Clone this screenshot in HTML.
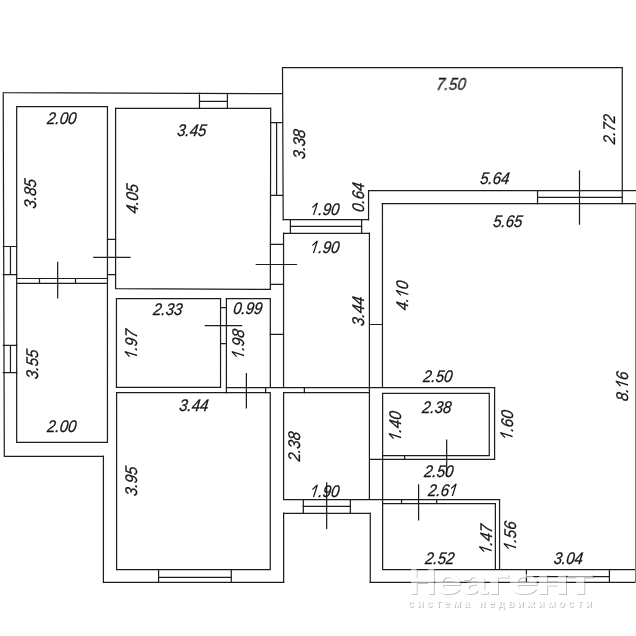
<!DOCTYPE html>
<html><head><meta charset="utf-8"><title>plan</title>
<style>html,body{margin:0;padding:0;background:#fff}svg{display:block}text{font-family:"Liberation Sans",sans-serif;font-style:italic;font-size:16.9px;fill:#161616;stroke:#161616;stroke-width:0.28px;text-anchor:middle}tspan.h{fill:none;stroke:none}path.one{fill:none;stroke:#161616;stroke-width:1.45px;stroke-linejoin:bevel;stroke-linecap:butt}text.w1{font-style:normal;font-weight:bold;font-size:37.5px;stroke:none;text-anchor:start}text.w2{font-style:normal;font-weight:bold;font-size:10.5px;stroke:none}</style></head><body>
<svg width="636" height="636" viewBox="0 0 636 636">
<rect width="636" height="636" fill="#fff"/>
<g stroke="#1c1c1c" stroke-width="1.22" stroke-linecap="square" fill="none">
<path d="M3.20 92.70L282.50 93.70M3.20 92.70L4.30 456.10M4.30 456.32L103.30 456.32M103.41 456.10L103.41 582.40M103.30 582.46L283.80 582.46M283.63 513.00L283.63 582.40M283.80 513.27L370.00 513.27M370.27 513.00L370.27 582.40M370.00 582.46L636.00 582.46M282.50 67.60L283.20 219.80M282.50 67.55L622.00 67.55M622.27 67.60L622.27 203.90M283.20 219.63L368.60 219.63M368.55 190.60L368.55 219.80M368.60 190.54L636.00 190.54M382.20 203.68L636.00 203.68M537.60 197.37L622.00 197.37M537.54 190.60L537.54 203.90M579.50 170.80L579.50 224.20M382.45 203.90L382.45 387.60M226.30 387.55L494.70 387.55M494.59 387.60L494.59 459.40M369.60 459.45L494.70 459.45M382.60 393.45L489.00 393.45M489.27 393.40L489.27 455.70M382.60 455.59L489.00 455.59M382.63 393.40L382.63 569.60M404.63 455.70L404.63 459.40M446.68 440.00L446.68 475.80M369.30 324.50L382.40 324.50M369.41 233.00L369.41 499.60M283.70 499.55L499.60 499.55M383.20 503.55L495.20 503.55M499.55 499.60L499.55 569.60M495.37 503.60L495.37 569.60M383.20 569.54L636.00 569.54M401.55 499.60L401.55 503.60M436.68 499.60L436.68 503.60M418.59 484.80L418.59 520.00M526.41 569.60L526.41 582.40M609.41 569.60L609.41 582.40M526.30 576.54L609.30 576.54M283.59 392.80L283.59 499.60M283.70 392.63L369.30 392.63M303.32 499.60L303.32 513.00M350.37 499.60L350.37 513.00M303.10 506.37L350.20 506.37M326.68 482.80L326.68 528.50M304.37 387.60L304.37 392.80M283.55 233.00L283.55 387.60M283.60 233.28L368.80 233.28M290.41 219.80L290.41 233.00M361.63 219.80L361.63 233.00M290.30 226.46L361.80 226.46M115.70 108.36L270.60 108.36M115.59 108.20L115.59 288.60M270.70 108.20L270.30 289.40M115.70 288.60L270.50 289.40M107.40 239.28L115.70 239.28M107.40 274.59L115.70 274.59M93.80 257.45L130.00 257.45M270.20 244.41L283.50 244.41M270.40 284.45L283.50 284.45M256.30 264.50L296.50 264.50M276.59 122.90L276.59 195.00M270.60 122.68L282.60 122.68M270.60 195.28L282.60 195.28M199.46 93.40L199.46 108.20M227.41 93.50L227.41 108.20M199.40 101.28L227.30 101.28M199.40 108.36L227.30 108.36M16.90 106.64L107.40 106.64M16.68 106.80L16.68 442.40M107.45 106.80L107.45 442.40M16.90 278.50L107.40 278.50M16.90 283.27L107.40 283.27M39.50 278.50L39.50 283.00M75.50 278.50L75.50 283.00M57.68 262.40L57.68 298.00M16.90 442.45L107.40 442.45M3.30 246.50L16.90 246.50M3.30 274.59L16.90 274.59M10.46 246.50L10.46 274.70M3.30 345.45L16.90 345.45M3.30 372.59L16.90 372.59M10.46 345.40L10.46 372.70M116.40 298.55L220.60 298.55M116.45 298.60L116.45 387.00M220.54 298.60L220.54 387.00M116.40 387.27L220.60 387.27M226.30 298.55L270.10 298.55M226.41 298.60L226.41 392.80M270.32 298.60L270.32 387.60M220.60 307.59L226.30 307.59M220.60 343.55L226.30 343.55M205.30 325.59L241.60 325.59M270.10 334.37L283.60 334.37M116.70 392.63L270.00 392.63M116.59 392.80L116.59 569.60M270.27 392.80L270.27 569.60M116.70 569.54L270.00 569.54M265.63 387.60L265.63 392.80M246.37 373.70L246.37 407.80M158.59 569.60L158.59 582.40M231.28 569.60L231.28 582.40M158.70 577.27L231.00 577.27"/>
<rect x="635" y="204" width="1" height="379" fill="#7a7a7a" stroke="none"/>
</g>
<g style="opacity:0.999">
<g transform="translate(62 118) skewX(-7) scale(0.8900 1)"><text y="6.05">2.00</text></g>
<g transform="translate(192 130) skewX(-7) scale(0.8900 1)"><text y="6.05">3.45</text></g>
<g transform="translate(451.3 84) skewX(-7) scale(0.8900 1)"><text y="6.05">7.50</text></g>
<g transform="translate(609 129) rotate(-90) skewX(-7) scale(0.9007 1)"><text y="6.05">2.72</text></g>
<g transform="translate(299 144) rotate(-90) skewX(-7) scale(0.9007 1)"><text y="6.05">3.38</text></g>
<g transform="translate(30 193.5) rotate(-90) skewX(-7) scale(0.9007 1)"><text y="6.05">3.85</text></g>
<g transform="translate(132 198.5) rotate(-90) skewX(-7) scale(0.9007 1)"><text y="6.05">4.05</text></g>
<g transform="translate(495 178) skewX(-7) scale(0.8900 1)"><text y="6.05">5.64</text></g>
<g transform="translate(357.8 197) rotate(-90) skewX(-7) scale(0.9007 1)"><text y="6.05">0.64</text></g>
<g transform="translate(325.1 209) skewX(-7) scale(0.8900 1)"><text y="6.05"><tspan class="h">1</tspan>.90</text><g transform="translate(0 6.05) skewX(-12)"><path class="one" d="M-16.04 -7.50L-12.14 -12.10L-12.14 0"/></g></g>
<g transform="translate(508 221) skewX(-7) scale(0.8900 1)"><text y="6.05">5.65</text></g>
<g transform="translate(325.1 247) skewX(-7) scale(0.8900 1)"><text y="6.05"><tspan class="h">1</tspan>.90</text><g transform="translate(0 6.05) skewX(-12)"><path class="one" d="M-16.04 -7.50L-12.14 -12.10L-12.14 0"/></g></g>
<g transform="translate(402.3 295.3) rotate(-90) skewX(-7) scale(0.9007 1)"><text y="6.05">4.<tspan class="h">1</tspan>0</text><g transform="translate(0 6.05) skewX(-12)"><path class="one" d="M-1.95 -7.50L1.95 -12.10L1.95 0"/></g></g>
<g transform="translate(358 311) rotate(-90) skewX(-7) scale(0.9007 1)"><text y="6.05">3.44</text></g>
<g transform="translate(168 309) skewX(-7) scale(0.8900 1)"><text y="6.05">2.33</text></g>
<g transform="translate(248 307.6) skewX(-7) scale(0.8900 1)"><text y="6.05">0.99</text></g>
<g transform="translate(131 343.8) rotate(-90) skewX(-7) scale(0.9007 1)"><text y="6.05"><tspan class="h">1</tspan>.97</text><g transform="translate(0 6.05) skewX(-12)"><path class="one" d="M-16.04 -7.50L-12.14 -12.10L-12.14 0"/></g></g>
<g transform="translate(238 343.8) rotate(-90) skewX(-7) scale(0.9007 1)"><text y="6.05"><tspan class="h">1</tspan>.98</text><g transform="translate(0 6.05) skewX(-12)"><path class="one" d="M-16.04 -7.50L-12.14 -12.10L-12.14 0"/></g></g>
<g transform="translate(32 364) rotate(-90) skewX(-7) scale(0.9007 1)"><text y="6.05">3.55</text></g>
<g transform="translate(438 376) skewX(-7) scale(0.8900 1)"><text y="6.05">2.50</text></g>
<g transform="translate(622 386) rotate(-90) skewX(-7) scale(0.9007 1)"><text y="6.05">8.<tspan class="h">1</tspan>6</text><g transform="translate(0 6.05) skewX(-12)"><path class="one" d="M-1.95 -7.50L1.95 -12.10L1.95 0"/></g></g>
<g transform="translate(194 405) skewX(-7) scale(0.8900 1)"><text y="6.05">3.44</text></g>
<g transform="translate(437 407) skewX(-7) scale(0.8900 1)"><text y="6.05">2.38</text></g>
<g transform="translate(395 425.8) rotate(-90) skewX(-7) scale(0.9007 1)"><text y="6.05"><tspan class="h">1</tspan>.40</text><g transform="translate(0 6.05) skewX(-12)"><path class="one" d="M-16.04 -7.50L-12.14 -12.10L-12.14 0"/></g></g>
<g transform="translate(506.5 424.8) rotate(-90) skewX(-7) scale(0.9007 1)"><text y="6.05"><tspan class="h">1</tspan>.60</text><g transform="translate(0 6.05) skewX(-12)"><path class="one" d="M-16.04 -7.50L-12.14 -12.10L-12.14 0"/></g></g>
<g transform="translate(62 426) skewX(-7) scale(0.8900 1)"><text y="6.05">2.00</text></g>
<g transform="translate(294.2 446.3) rotate(-90) skewX(-7) scale(0.9007 1)"><text y="6.05">2.38</text></g>
<g transform="translate(439 471) skewX(-7) scale(0.8900 1)"><text y="6.05">2.50</text></g>
<g transform="translate(131 481) rotate(-90) skewX(-7) scale(0.9007 1)"><text y="6.05">3.95</text></g>
<g transform="translate(325.1 491) skewX(-7) scale(0.8900 1)"><text y="6.05"><tspan class="h">1</tspan>.90</text><g transform="translate(0 6.05) skewX(-12)"><path class="one" d="M-16.04 -7.50L-12.14 -12.10L-12.14 0"/></g></g>
<g transform="translate(443 490) skewX(-7) scale(0.8900 1)"><text y="6.05">2.6<tspan class="h">1</tspan></text><g transform="translate(0 6.05) skewX(-12)"><path class="one" d="M7.45 -7.50L11.35 -12.10L11.35 0"/></g></g>
<g transform="translate(485.5 538.8) rotate(-90) skewX(-7) scale(0.9007 1)"><text y="6.05"><tspan class="h">1</tspan>.47</text><g transform="translate(0 6.05) skewX(-12)"><path class="one" d="M-16.04 -7.50L-12.14 -12.10L-12.14 0"/></g></g>
<g transform="translate(510 535.8) rotate(-90) skewX(-7) scale(0.9007 1)"><text y="6.05"><tspan class="h">1</tspan>.56</text><g transform="translate(0 6.05) skewX(-12)"><path class="one" d="M-16.04 -7.50L-12.14 -12.10L-12.14 0"/></g></g>
<g transform="translate(440 558) skewX(-7) scale(0.8900 1)"><text y="6.05">2.52</text></g>
<g transform="translate(568.5 558) skewX(-7) scale(0.8900 1)"><text y="6.05">3.04</text></g>
</g>
<defs><filter id="wm" x="-3%" y="-15%" width="106%" height="135%" color-interpolation-filters="sRGB"><feGaussianBlur in="SourceAlpha" stdDeviation="0.75" result="b"/><feOffset in="b" dx="1.3" dy="1.3" result="o"/><feComposite in="o" in2="SourceAlpha" operator="out" result="s"/><feFlood flood-color="#5a5a5a" flood-opacity="0.36" result="f1"/><feComposite in="f1" in2="s" operator="in" result="sc"/><feFlood flood-color="#ffffff" flood-opacity="0.58" result="f2"/><feComposite in="f2" in2="SourceAlpha" operator="in" result="w"/><feMerge><feMergeNode in="sc"/><feMergeNode in="w"/></feMerge></filter></defs>
<g filter="url(#wm)" style="font-style:normal"><text class="w1" transform="translate(408.38 594.30) scale(1.035 1)" style="fill:#000">Н</text><text class="w1" transform="translate(433.32 594.30) scale(1.387 1)" style="fill:#000">е</text><text class="w1" transform="translate(460.54 594.30) scale(1.302 1)" style="fill:#000">а</text><text class="w1" transform="translate(485.95 594.30) scale(1.542 1)" style="fill:#000">г</text><text class="w1" transform="translate(507.76 594.30) scale(1.492 1)" style="fill:#000">е</text><text class="w1" transform="translate(534.94 594.30) scale(1.548 1)" style="fill:#000">н</text><text class="w1" transform="translate(566.01 594.30) scale(1.545 1)" style="fill:#000">т</text><text class="w2" x="499.8" y="607.1" textLength="184" lengthAdjust="spacing" style="fill:#000">система недвижимости</text></g>
</svg>
</body></html>
